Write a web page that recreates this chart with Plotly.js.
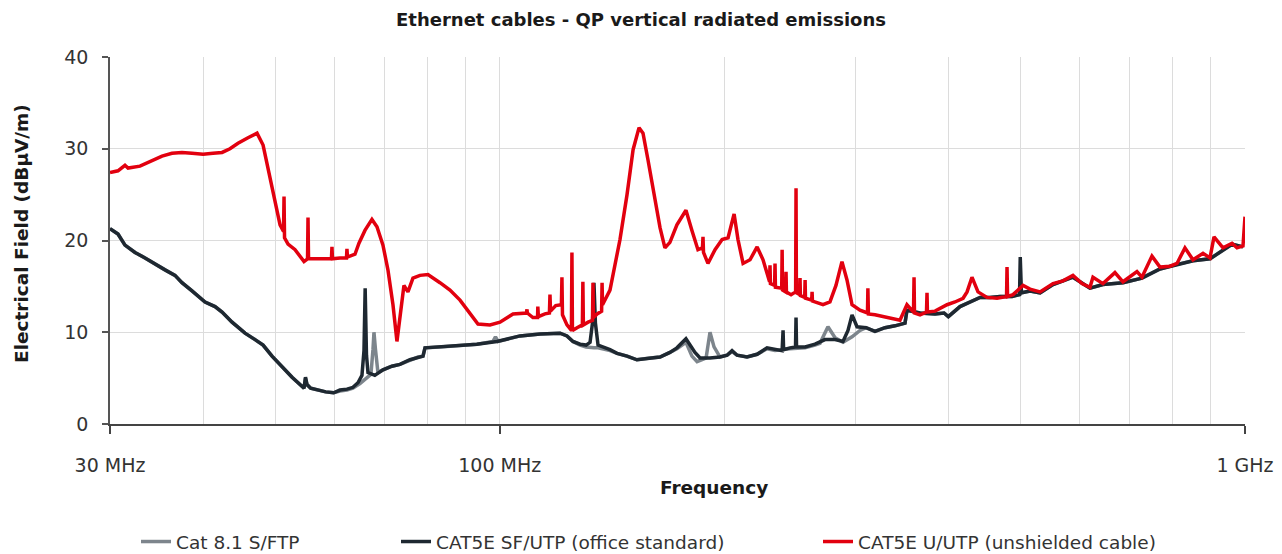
<!DOCTYPE html>
<html>
<head>
<meta charset="utf-8">
<script src="https://cdn.plot.ly/plotly-3.0.1.min.js"></script>
<style>html,body{margin:0;padding:0;background:#fff;}#chart{width:1282px;height:554px;}</style>
</head>
<body>
<div id="chart"></div>
<script>
// ---- Data (frequency in MHz, field in dBµV/m) ----
const seriesNames = ["Cat 8.1 S/FTP", "CAT5E SF/UTP (office standard)", "CAT5E U/UTP (unshielded cable)"];
const seriesColors = ["#7d858c", "#1e2831", "#e2000f"];

const freqCat8 = [30.0,30.75,31.42,32.41,33.43,34.48,35.56,36.67,37.47,38.65,40.24,41.5,42.41,43.74,45.53,46.96,48.14,49.49,51.04,52.65,54.46,54.63,54.88,55.14,55.76,56.98,58.41,59.86,61.05,62.38,63.55,64.94,66.15,67.18,67.6,67.81,68.13,68.65,69.72,71.68,73.48,75.78,77.69,78.9,79.39,83.15,87.61,93.19,97.95,98.7,99.5,103.2,106.5,113.3,120.5,123.1,125.4,128.2,130.6,133.8,135.5,140.6,143.7,148.2,152.8,159.1,164.1,169.2,172.9,177.8,181.1,184.0,187.4,189.2,191.5,193.9,197.5,201.9,205.0,208.2,214.7,221.5,228.4,234.1,245.2,256.9,264.9,269.0,275.7,281.8,288.8,297.0,304.4,310.1,318.8,328.8,339.1,349.8,351.9,366.4,383.8,394.6,399.9,414.6,427.6,441.1,454.8,469.1,486.9,498.3,501.2,514.7,530.9,552.6,587.7,619.4,644.8,685.9,727.3,769.0,810.5,851.5,897.5,960.6,993.8];
const valCat8 = [21.3,20.7,19.5,18.7,18.1,17.4,16.8,16.2,15.4,14.5,13.3,12.8,12.2,11.1,9.9,9.2,8.6,7.4,6.2,5.1,4.0,3.9,5.0,4.3,3.9,3.7,3.5,3.4,3.6,3.7,3.9,4.4,5.0,5.4,8.1,10.0,8.1,5.6,5.9,6.3,6.5,7.0,7.3,7.4,8.3,8.4,8.5,8.7,9.0,9.5,9.0,9.3,9.6,9.8,9.9,9.6,9.0,8.6,8.4,8.3,8.3,8.0,7.7,7.4,7.0,7.2,7.3,7.8,8.2,8.9,7.4,6.8,7.0,7.2,10.0,8.4,7.3,7.5,7.9,7.5,7.3,7.6,8.2,8.0,8.2,8.3,8.6,8.8,10.6,9.4,8.9,9.5,10.2,10.5,10.1,10.5,10.7,11.0,12.4,12.1,12.0,12.1,11.7,12.8,13.3,13.8,13.8,13.9,13.9,14.1,14.3,14.5,14.3,15.2,16.0,14.8,15.2,15.4,15.9,16.9,17.4,17.8,18.0,19.6,19.3];

const freqSF = [30.0,30.75,31.42,32.41,33.43,34.48,35.56,36.67,37.47,38.65,40.24,41.5,42.41,43.74,45.53,46.96,48.14,49.49,51.04,52.65,54.46,54.63,54.88,55.14,55.76,56.98,58.41,59.86,61.05,62.38,63.55,64.54,65.34,65.75,65.99,66.26,66.57,67.99,69.72,71.68,73.48,75.78,77.69,78.9,79.39,83.15,87.61,93.19,99.17,103.2,106.5,113.3,120.5,123.1,125.4,128.2,130.6,132.2,133.2,133.8,134.4,135.5,140.6,143.7,148.2,152.8,159.1,164.1,169.2,172.9,177.8,180.0,182.8,185.7,191.5,197.5,201.9,205.0,208.2,214.7,221.5,228.4,234.1,239.3,240.0,240.4,245.2,249.4,249.8,250.2,256.9,264.9,273.2,281.8,288.8,293.3,297.0,301.6,310.1,318.8,328.8,339.1,349.8,351.9,366.4,383.8,394.6,399.9,414.6,427.6,441.1,454.8,469.1,486.9,498.3,499.4,501.2,514.7,530.9,552.6,587.7,619.4,644.8,685.9,727.3,769.0,810.5,851.5,897.5,960.6,993.8];
const valSF = [21.3,20.7,19.5,18.7,18.1,17.4,16.8,16.2,15.4,14.5,13.3,12.8,12.2,11.1,9.9,9.2,8.6,7.4,6.2,5.1,4.0,3.9,5.1,4.3,3.9,3.7,3.5,3.4,3.7,3.8,4.0,4.5,5.3,8.0,14.8,7.5,5.6,5.3,5.9,6.3,6.5,7.0,7.3,7.4,8.3,8.4,8.5,8.7,9.0,9.3,9.6,9.8,9.9,9.6,9.0,8.7,8.6,8.9,11.0,15.4,11.0,8.6,8.1,7.7,7.4,7.0,7.2,7.3,7.8,8.3,9.3,8.7,7.8,7.2,7.2,7.3,7.5,8.0,7.5,7.3,7.6,8.3,8.1,8.0,10.2,8.1,8.3,8.4,11.6,8.4,8.4,8.7,9.2,9.2,9.0,10.2,11.9,10.6,10.5,10.1,10.5,10.7,11.0,12.4,12.1,12.0,12.1,11.7,12.8,13.3,13.8,13.8,13.9,13.9,14.1,18.2,14.3,14.5,14.3,15.2,16.0,14.8,15.2,15.4,15.9,16.9,17.4,17.8,18.0,19.6,19.3];

const freqUTP = [30.0,30.75,31.42,31.72,32.91,33.95,35.23,36.33,37.47,38.65,40.0,41.24,42.41,43.46,44.55,45.95,47.25,48.14,49.49,50.73,51.28,51.36,51.44,52.0,53.14,54.63,55.23,55.31,55.4,57.51,59.46,59.56,59.65,61.05,62.29,62.38,62.48,63.95,64.74,65.95,67.39,68.44,69.72,70.8,71.91,72.8,73.71,74.39,75.32,76.49,78.17,80.12,83.15,85.76,88.46,91.23,93.51,97.05,100.1,104.2,108.6,108.8,108.9,110.8,112.4,112.5,112.7,115.0,116.6,116.8,117.0,118.9,121.0,121.2,121.4,123.1,124.8,125.0,125.2,127.0,129.1,129.3,129.5,131.4,133.2,133.4,133.6,135.1,137.0,137.2,137.4,140.6,145.0,148.2,151.0,153.8,155.7,158.1,161.6,164.1,166.6,169.2,172.9,177.8,181.1,184.5,187.1,187.4,187.7,190.3,194.5,198.8,202.5,206.3,208.8,212.1,216.7,221.5,225.6,229.1,230.2,230.5,230.8,233.8,234.1,234.4,239.0,239.3,239.6,241.9,242.2,242.5,246.0,249.5,249.8,250.1,252.6,252.9,253.2,256.6,256.9,257.2,262.2,262.5,262.8,271.5,277.4,282.6,287.9,292.4,297.0,304.4,311.5,311.9,312.4,318.8,330.9,344.4,351.9,359.1,359.7,360.2,366.4,373.8,374.4,374.9,383.8,398.3,408.2,418.5,423.7,430.2,438.3,450.6,464.8,478.7,479.4,480.2,488.4,503.7,514.7,530.9,552.6,569.8,587.7,604.3,619.4,625.2,644.8,669.1,685.9,716.2,727.3,750.2,769.0,793.1,810.5,830.7,851.5,878.3,897.5,908.7,934.3,960.6,975.6,993.8,1000];
const valUTP = [27.4,27.6,28.2,27.9,28.1,28.6,29.2,29.5,29.6,29.5,29.4,29.5,29.6,30.0,30.6,31.2,31.7,30.4,25.8,21.7,21.0,24.8,20.3,19.6,19.0,17.7,18.0,22.5,18.0,18.0,18.0,19.3,18.0,18.1,18.1,19.1,18.2,18.5,19.7,21.1,22.3,21.5,19.5,16.8,13.0,9.0,13.0,15.1,14.4,15.9,16.2,16.3,15.4,14.6,13.5,12.0,10.9,10.8,11.1,12.0,12.1,12.5,12.1,11.6,11.6,12.8,11.7,12.0,12.1,14.1,12.3,12.9,13.0,16.0,11.9,10.8,10.2,18.7,10.2,10.5,10.8,15.5,10.8,11.1,11.3,15.4,11.6,12.0,12.3,15.4,13.0,14.6,20.1,25.0,29.9,32.3,31.7,28.8,24.4,21.4,19.2,19.8,21.7,23.3,21.1,19.0,19.2,20.4,18.7,17.5,19.0,20.1,20.3,22.9,20.1,17.5,17.9,19.3,17.9,15.9,15.5,17.3,15.3,15.1,17.5,14.9,14.8,19.0,14.6,14.4,16.6,14.4,14.1,14.4,25.7,14.3,14.1,15.9,14.0,13.8,15.7,13.7,13.5,14.4,13.4,13.0,13.3,15.1,17.7,15.7,13.0,12.4,12.1,14.8,12.0,11.9,11.6,11.3,13.0,12.2,16.0,12.1,11.9,12.2,14.3,12.2,12.3,13.0,13.3,13.7,14.4,16.0,14.4,13.8,13.7,13.9,17.1,13.9,14.1,15.1,14.7,14.4,15.3,15.6,16.2,15.3,14.9,16.0,15.3,16.5,15.5,16.6,16.0,18.3,17.1,17.2,17.5,19.2,17.9,18.6,18.1,20.4,19.2,19.7,19.2,19.4,22.6];

const xTickVals = [30, 100, 1000];
const xTickText = ["30 MHz", "100 MHz", "1 GHz"];
const xMinorGrid = [40,50,60,70,80,90,200,300,400,500,600,700,800,900];

const FONT = '"DejaVu Sans", sans-serif';

const xs = [freqCat8, freqSF, freqUTP];
const ys = [valCat8, valSF, valUTP];
const legendIds = ["legend", "legend2", "legend3"];
const traces = seriesNames.map((name, i) => ({
  type: "scatter", mode: "lines", name: name,
  x: xs[i], y: ys[i],
  line: {color: seriesColors[i], width: 3.5},
  legend: legendIds[i],
  hoverinfo: "x+y+name"
}));

function leg(xpx) {
  return {x: xpx / 1282, xref: "container", y: 1 - 542 / 554, yref: "container",
    yanchor: "middle", xanchor: "left", orientation: "h", bgcolor: "rgba(0,0,0,0)",
    font: {family: FONT, size: 18.5, color: "#333"}, itemwidth: 30};
}

const layout = {
  width: 1282, height: 554,
  margin: {l: 110, r: 37, t: 57, b: 130},
  paper_bgcolor: "#fff", plot_bgcolor: "#fff",
  font: {family: FONT, color: "#333"},
  title: {text: "Ethernet cables - QP vertical radiated emissions", x: 0.5, xref: "container",
    y: 1 - 20 / 554, yref: "container", yanchor: "middle",
    font: {family: FONT, size: 18, color: "#1a1a1a", weight: "bold"}},
  xaxis: {
    type: "log", range: [Math.log10(30), 3],
    tickmode: "array", tickvals: xTickVals, ticktext: xTickText,
    showgrid: true, gridcolor: "#dcdcdc", gridwidth: 1,
    minor: {tickmode: "array", tickvals: xMinorGrid, showgrid: true, gridcolor: "#dcdcdc", gridwidth: 1, ticks: ""},
    showline: true, linecolor: "#444", linewidth: 1.5,
    ticks: "outside", ticklen: 8, tickcolor: "#444", tickwidth: 1.5,
    ticklabelstandoff: 15,
    tickfont: {family: FONT, size: 19, color: "#333"},
    zeroline: false, fixedrange: true
  },
  yaxis: {
    range: [0, 40], dtick: 10, tick0: 0,
    showgrid: true, gridcolor: "#dcdcdc", gridwidth: 1,
    showline: true, linecolor: "#555", linewidth: 1.5,
    ticks: "outside", ticklen: 6, tickcolor: "#555", tickwidth: 1.5,
    ticklabelstandoff: 10,
    tickfont: {family: FONT, size: 19, color: "#333"},
    zeroline: false, fixedrange: true
  },
  annotations: [
    {text: "Frequency", xref: "paper", yref: "paper", x: (714 - 110) / 1135, y: (424 - 488) / 367,
     xanchor: "center", yanchor: "middle", showarrow: false,
     font: {family: FONT, size: 18.5, color: "#1a1a1a", weight: "bold"}},
    {text: "Electrical Field (dBµV/m)", xref: "paper", yref: "paper", x: (21 - 110) / 1135, y: (424 - 234) / 367,
     xanchor: "center", yanchor: "middle", textangle: -90, showarrow: false,
     font: {family: FONT, size: 18.5, color: "#1a1a1a", weight: "bold"}}
  ],
  legend: leg(136), legend2: leg(396), legend3: leg(818),
  showlegend: true
};

Plotly.newPlot("chart", traces, layout, {displayModeBar: false, staticPlot: false});
</script>
</body>
</html>
